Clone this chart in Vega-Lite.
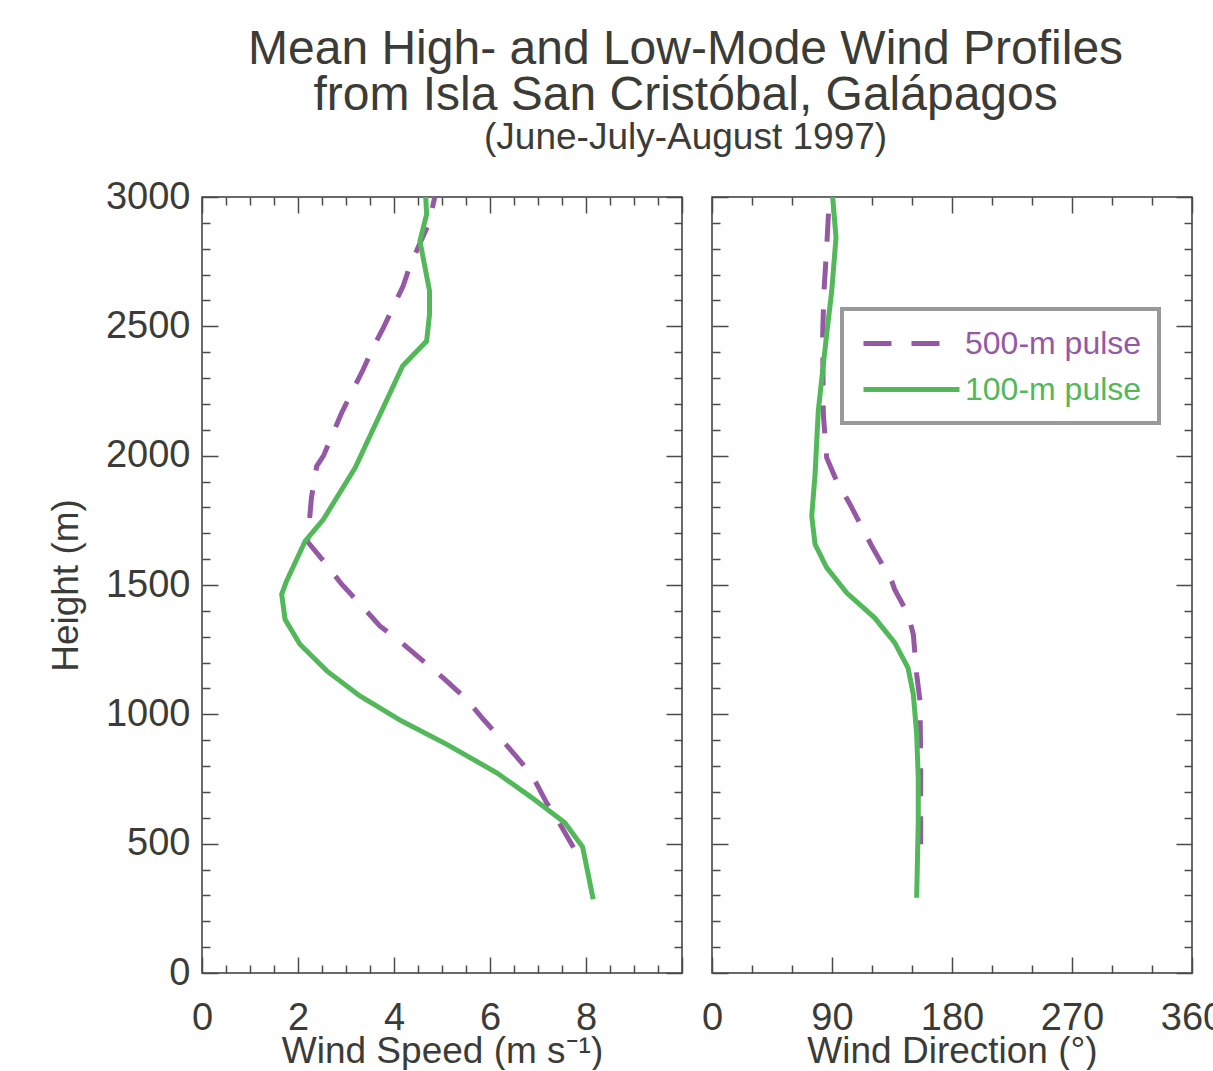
{
  "$schema": "https://vega.github.io/schema/vega-lite/v6.json",
  "autosize": {"type": "pad"},
  "padding": {"left": 46, "top": 26, "right": 0, "bottom": 0},
  "background": "white",
  "bounds": "flush",
  "title": {
    "text": ["Mean High- and Low-Mode Wind Profiles", "from Isla San Cristóbal, Galápagos"],
    "subtitle": "(June-July-August 1997)",
    "fontSize": 48, "lineHeight": 46, "subtitleFontSize": 37,
    "font": "Liberation Sans", "subtitleFont": "Liberation Sans",
    "fontWeight": "normal", "color": "#3c3c37", "subtitleColor": "#3c3c37",
    "anchor": "middle", "offset": 21, "subtitlePadding": 0, "dx": 50
  },
  "datasets": {
    "profiles": [
      {"pulse": "500-m pulse", "panel": "speed", "height": 3000, "value": 4.85},
      {"pulse": "500-m pulse", "panel": "speed", "height": 2900, "value": 4.73},
      {"pulse": "500-m pulse", "panel": "speed", "height": 2733, "value": 4.33},
      {"pulse": "500-m pulse", "panel": "speed", "height": 2656, "value": 4.19},
      {"pulse": "500-m pulse", "panel": "speed", "height": 2495, "value": 3.78},
      {"pulse": "500-m pulse", "panel": "speed", "height": 2405, "value": 3.53},
      {"pulse": "500-m pulse", "panel": "speed", "height": 2334, "value": 3.36},
      {"pulse": "500-m pulse", "panel": "speed", "height": 2166, "value": 2.91},
      {"pulse": "500-m pulse", "panel": "speed", "height": 1999, "value": 2.53},
      {"pulse": "500-m pulse", "panel": "speed", "height": 1960, "value": 2.39},
      {"pulse": "500-m pulse", "panel": "speed", "height": 1837, "value": 2.28},
      {"pulse": "500-m pulse", "panel": "speed", "height": 1667, "value": 2.2},
      {"pulse": "500-m pulse", "panel": "speed", "height": 1593, "value": 2.53},
      {"pulse": "500-m pulse", "panel": "speed", "height": 1503, "value": 2.91},
      {"pulse": "500-m pulse", "panel": "speed", "height": 1419, "value": 3.33},
      {"pulse": "500-m pulse", "panel": "speed", "height": 1341, "value": 3.71},
      {"pulse": "500-m pulse", "panel": "speed", "height": 1277, "value": 4.16},
      {"pulse": "500-m pulse", "panel": "speed", "height": 1206, "value": 4.61},
      {"pulse": "500-m pulse", "panel": "speed", "height": 1135, "value": 5.06},
      {"pulse": "500-m pulse", "panel": "speed", "height": 1064, "value": 5.48},
      {"pulse": "500-m pulse", "panel": "speed", "height": 981, "value": 5.86},
      {"pulse": "500-m pulse", "panel": "speed", "height": 903, "value": 6.24},
      {"pulse": "500-m pulse", "panel": "speed", "height": 813, "value": 6.66},
      {"pulse": "500-m pulse", "panel": "speed", "height": 742, "value": 6.94},
      {"pulse": "500-m pulse", "panel": "speed", "height": 658, "value": 7.18},
      {"pulse": "500-m pulse", "panel": "speed", "height": 575, "value": 7.46},
      {"pulse": "500-m pulse", "panel": "speed", "height": 485, "value": 7.74},
      {"pulse": "100-m pulse", "panel": "speed", "height": 3000, "value": 4.66},
      {"pulse": "100-m pulse", "panel": "speed", "height": 2933, "value": 4.68},
      {"pulse": "100-m pulse", "panel": "speed", "height": 2830, "value": 4.54},
      {"pulse": "100-m pulse", "panel": "speed", "height": 2637, "value": 4.74},
      {"pulse": "100-m pulse", "panel": "speed", "height": 2546, "value": 4.74},
      {"pulse": "100-m pulse", "panel": "speed", "height": 2443, "value": 4.68},
      {"pulse": "100-m pulse", "panel": "speed", "height": 2347, "value": 4.18},
      {"pulse": "100-m pulse", "panel": "speed", "height": 1953, "value": 3.19},
      {"pulse": "100-m pulse", "panel": "speed", "height": 1754, "value": 2.53},
      {"pulse": "100-m pulse", "panel": "speed", "height": 1670, "value": 2.15},
      {"pulse": "100-m pulse", "panel": "speed", "height": 1515, "value": 1.76},
      {"pulse": "100-m pulse", "panel": "speed", "height": 1464, "value": 1.66},
      {"pulse": "100-m pulse", "panel": "speed", "height": 1367, "value": 1.73},
      {"pulse": "100-m pulse", "panel": "speed", "height": 1271, "value": 2.04},
      {"pulse": "100-m pulse", "panel": "speed", "height": 1168, "value": 2.6},
      {"pulse": "100-m pulse", "panel": "speed", "height": 1071, "value": 3.29},
      {"pulse": "100-m pulse", "panel": "speed", "height": 974, "value": 4.16},
      {"pulse": "100-m pulse", "panel": "speed", "height": 884, "value": 5.1},
      {"pulse": "100-m pulse", "panel": "speed", "height": 774, "value": 6.14},
      {"pulse": "100-m pulse", "panel": "speed", "height": 678, "value": 6.87},
      {"pulse": "100-m pulse", "panel": "speed", "height": 581, "value": 7.56},
      {"pulse": "100-m pulse", "panel": "speed", "height": 487, "value": 7.93},
      {"pulse": "100-m pulse", "panel": "speed", "height": 285, "value": 8.15},
      {"pulse": "500-m pulse", "panel": "direction", "height": 3000, "value": 88},
      {"pulse": "500-m pulse", "panel": "direction", "height": 2804, "value": 86},
      {"pulse": "500-m pulse", "panel": "direction", "height": 2637, "value": 84},
      {"pulse": "500-m pulse", "panel": "direction", "height": 2469, "value": 83},
      {"pulse": "500-m pulse", "panel": "direction", "height": 2160, "value": 83.5},
      {"pulse": "500-m pulse", "panel": "direction", "height": 1992, "value": 86},
      {"pulse": "500-m pulse", "panel": "direction", "height": 1902, "value": 93.5},
      {"pulse": "500-m pulse", "panel": "direction", "height": 1812, "value": 103.5},
      {"pulse": "500-m pulse", "panel": "direction", "height": 1651, "value": 119.8},
      {"pulse": "500-m pulse", "panel": "direction", "height": 1515, "value": 134.8},
      {"pulse": "500-m pulse", "panel": "direction", "height": 1483, "value": 137},
      {"pulse": "500-m pulse", "panel": "direction", "height": 1387, "value": 147},
      {"pulse": "500-m pulse", "panel": "direction", "height": 1309, "value": 151},
      {"pulse": "500-m pulse", "panel": "direction", "height": 1155, "value": 153.5},
      {"pulse": "500-m pulse", "panel": "direction", "height": 1052, "value": 156},
      {"pulse": "500-m pulse", "panel": "direction", "height": 820, "value": 156.5},
      {"pulse": "500-m pulse", "panel": "direction", "height": 498, "value": 156.5},
      {"pulse": "100-m pulse", "panel": "direction", "height": 3000, "value": 90.5},
      {"pulse": "100-m pulse", "panel": "direction", "height": 2843, "value": 93},
      {"pulse": "100-m pulse", "panel": "direction", "height": 2637, "value": 89.8},
      {"pulse": "100-m pulse", "panel": "direction", "height": 2469, "value": 86},
      {"pulse": "100-m pulse", "panel": "direction", "height": 2173, "value": 79.7},
      {"pulse": "100-m pulse", "panel": "direction", "height": 1928, "value": 77.3},
      {"pulse": "100-m pulse", "panel": "direction", "height": 1767, "value": 74.8},
      {"pulse": "100-m pulse", "panel": "direction", "height": 1657, "value": 77.3},
      {"pulse": "100-m pulse", "panel": "direction", "height": 1567, "value": 86},
      {"pulse": "100-m pulse", "panel": "direction", "height": 1470, "value": 101},
      {"pulse": "100-m pulse", "panel": "direction", "height": 1373, "value": 122},
      {"pulse": "100-m pulse", "panel": "direction", "height": 1277, "value": 137},
      {"pulse": "100-m pulse", "panel": "direction", "height": 1180, "value": 147},
      {"pulse": "100-m pulse", "panel": "direction", "height": 1077, "value": 151},
      {"pulse": "100-m pulse", "panel": "direction", "height": 923, "value": 153.5},
      {"pulse": "100-m pulse", "panel": "direction", "height": 755, "value": 154.7},
      {"pulse": "100-m pulse", "panel": "direction", "height": 588, "value": 154.7},
      {"pulse": "100-m pulse", "panel": "direction", "height": 291, "value": 153.5}
    ]
  },
  "spacing": 30,
  "resolve": {"scale": {"color": "independent", "strokeDash": "independent"}},
  "hconcat": [
    {
      "width": 480, "height": 776,
      "data": {"name": "profiles"},
      "transform": [{"filter": "datum.panel === 'speed'"}],
      "resolve": {"axis": {"x": "independent", "y": "independent"}},
      "layer": [
        {
          "transform": [{"filter": "datum.pulse === '500-m pulse'"}],
          "mark": {"type": "line", "strokeWidth": 5, "color": "#9558a5", "strokeDash": [28, 20], "strokeCap": "butt"},
          "encoding": {
            "x": {"field": "value", "type": "quantitative",
                  "scale": {"domain": [0, 10], "nice": false, "zero": false},
                  "axis": {"orient": "bottom", "title": "Wind Speed (m s⁻¹)", "format": "~g",
                           "values": [0,0.5,1,1.5,2,2.5,3,3.5,4,4.5,5,5.5,6,6.5,7,7.5,8,8.5,9,9.5,10],
                           "tickSize": {"condition": {"test": "datum.value % 2 === 0", "value": -16}, "value": -8},
                           "labelExpr": "datum.value % 2 === 0 && datum.value < 10 ? datum.label : ''",
                           "labelPadding": 42, "titlePadding": -12}},
            "y": {"field": "height", "type": "quantitative",
                  "scale": {"domain": [0, 3000], "nice": false},
                  "axis": {"orient": "left", "title": "Height (m)", "format": "d",
                           "values": [0,100,200,300,400,500,600,700,800,900,1000,1100,1200,1300,1400,1500,1600,1700,1800,1900,2000,2100,2200,2300,2400,2500,2600,2700,2800,2900,3000],
                           "tickSize": {"condition": {"test": "datum.value % 500 === 0", "value": -16}, "value": -8},
                           "labelExpr": "datum.value % 500 === 0 ? datum.label : ''",
                           "labelPadding": 28, "titlePadding": 20}},
            "order": {"field": "height", "type": "quantitative"}
          }
        },
        {
          "transform": [{"filter": "datum.pulse === '100-m pulse'"}],
          "mark": {"type": "line", "strokeWidth": 5, "color": "#52b85a", "strokeCap": "butt"},
          "encoding": {
            "x": {"field": "value", "type": "quantitative",
                  "axis": {"orient": "top", "title": null, "labels": false,
                           "values": [0,0.5,1,1.5,2,2.5,3,3.5,4,4.5,5,5.5,6,6.5,7,7.5,8,8.5,9,9.5,10],
                           "tickSize": {"condition": {"test": "datum.value % 2 === 0", "value": -16}, "value": -8}}},
            "y": {"field": "height", "type": "quantitative",
                  "axis": {"orient": "right", "title": null, "labels": false,
                           "values": [0,100,200,300,400,500,600,700,800,900,1000,1100,1200,1300,1400,1500,1600,1700,1800,1900,2000,2100,2200,2300,2400,2500,2600,2700,2800,2900,3000],
                           "tickSize": {"condition": {"test": "datum.value % 500 === 0", "value": -16}, "value": -8}}},
            "order": {"field": "height", "type": "quantitative"}
          }
        }
      ]
    },
    {
      "width": 480, "height": 776,
      "data": {"name": "profiles"},
      "transform": [{"filter": "datum.panel === 'direction'"}],
      "resolve": {"axis": {"x": "independent", "y": "independent"}},
      "layer": [
        {
          "transform": [{"filter": "datum.pulse === '500-m pulse'"}],
          "mark": {"type": "line", "strokeWidth": 5, "strokeCap": "butt"},
          "encoding": {
            "x": {"field": "value", "type": "quantitative",
                  "scale": {"domain": [0, 360], "nice": false, "zero": false},
                  "axis": {"orient": "bottom", "title": "Wind Direction (°)", "format": "d",
                           "values": [0,30,60,90,120,150,180,210,240,270,300,330,360],
                           "tickSize": {"condition": {"test": "datum.value % 90 === 0", "value": -16}, "value": -8},
                           "labelExpr": "datum.value % 90 === 0 ? datum.label : ''",
                           "labelPadding": 42, "titlePadding": -12}},
            "y": {"field": "height", "type": "quantitative",
                  "scale": {"domain": [0, 3000], "nice": false},
                  "axis": {"orient": "left", "title": null, "labels": false,
                           "values": [0,100,200,300,400,500,600,700,800,900,1000,1100,1200,1300,1400,1500,1600,1700,1800,1900,2000,2100,2200,2300,2400,2500,2600,2700,2800,2900,3000],
                           "tickSize": {"condition": {"test": "datum.value % 500 === 0", "value": -16}, "value": -8}}},
            "color": {"field": "pulse", "type": "nominal",
                      "scale": {"domain": ["500-m pulse", "100-m pulse"], "range": ["#9558a5", "#52b85a"]},
                      "legend": {"title": null, "orient": "none", "legendX": 130, "legendY": 112,
                                 "padding": 17, "strokeColor": "#999999",
                                 "labelFontSize": 32, "labelFont": "Liberation Sans", "labelLimit": 400,
                                 "symbolSize": 900, "symbolStrokeWidth": 5, "labelOffset": 71, "rowPadding": 12,
                                 "symbolType": "M-0.867,0H5.533",
                                 "encode": {
                                   "legend": {"update": {"strokeWidth": {"value": 4}}},
                                   "labels": {"update": {"fill": {"signal": "datum.value === '500-m pulse' ? '#9558a5' : '#52b85a'"}}},
                                   "symbols": {"update": {"strokeDash": {"signal": "datum.value === '500-m pulse' ? [28, 14] : [1, 0]"}}}
                                 }}},
            "strokeDash": {"field": "pulse", "type": "nominal",
                      "scale": {"domain": ["500-m pulse", "100-m pulse"], "range": [[28, 20], [1, 0]]},
                      "legend": {"title": null, "orient": "none", "legendX": 130, "legendY": 112,
                                 "padding": 17, "strokeColor": "#999999",
                                 "labelFontSize": 32, "labelFont": "Liberation Sans", "labelLimit": 400,
                                 "symbolSize": 900, "symbolStrokeWidth": 5, "labelOffset": 71, "rowPadding": 12,
                                 "symbolType": "M-0.867,0H5.533",
                                 "encode": {
                                   "legend": {"update": {"strokeWidth": {"value": 4}}},
                                   "labels": {"update": {"fill": {"signal": "datum.value === '500-m pulse' ? '#9558a5' : '#52b85a'"}}},
                                   "symbols": {"update": {"strokeDash": {"signal": "datum.value === '500-m pulse' ? [28, 14] : [1, 0]"}}}
                                 }}},
            "order": {"field": "height", "type": "quantitative"}
          }
        },
        {
          "transform": [{"filter": "datum.pulse === '100-m pulse'"}],
          "mark": {"type": "line", "strokeWidth": 5, "color": "#52b85a", "strokeCap": "butt"},
          "encoding": {
            "x": {"field": "value", "type": "quantitative",
                  "axis": {"orient": "top", "title": null, "labels": false,
                           "values": [0,30,60,90,120,150,180,210,240,270,300,330,360],
                           "tickSize": {"condition": {"test": "datum.value % 90 === 0", "value": -16}, "value": -8}}},
            "y": {"field": "height", "type": "quantitative",
                  "axis": {"orient": "right", "title": null, "labels": false,
                           "values": [0,100,200,300,400,500,600,700,800,900,1000,1100,1200,1300,1400,1500,1600,1700,1800,1900,2000,2100,2200,2300,2400,2500,2600,2700,2800,2900,3000],
                           "tickSize": {"condition": {"test": "datum.value % 500 === 0", "value": -16}, "value": -8}}},
            "order": {"field": "height", "type": "quantitative"}
          }
        }
      ]
    }
  ],
  "config": {
    "font": "Liberation Sans",
    "view": {"stroke": "#3a3a3a", "strokeWidth": 1.5},
    "axis": {
      "labelFont": "Liberation Sans", "titleFont": "Liberation Sans",
      "labelFontSize": 38, "titleFontSize": 37,
      "labelColor": "#3c3c37", "titleColor": "#3c3c37", "titleFontWeight": "normal",
      "tickColor": "#4a4a4a", "tickWidth": 1.5,
      "domain": false, "grid": false, "labelFlush": false, "labelOverlap": false
    }
  }
}
